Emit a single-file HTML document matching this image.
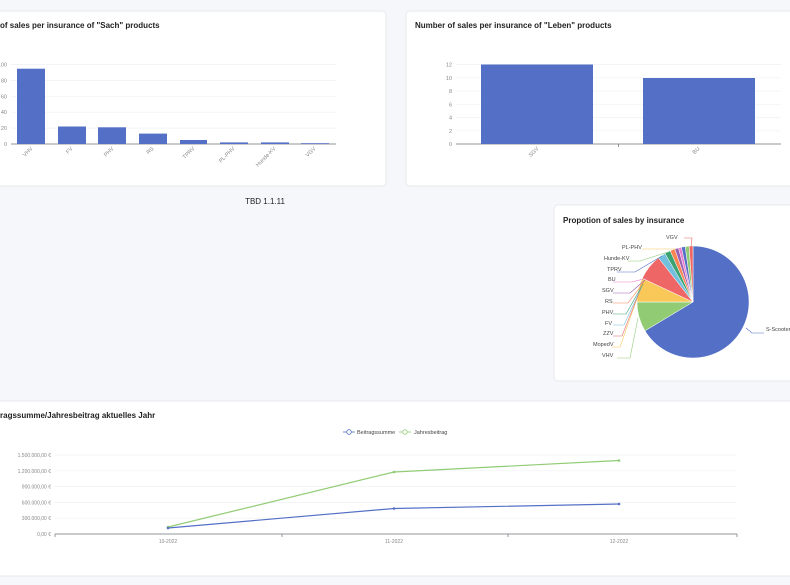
<!DOCTYPE html>
<html><head><meta charset="utf-8"><style>
body{margin:0;background:#f5f7fa;}
svg{display:block;font-family:"Liberation Sans",sans-serif;}
</style></head><body>
<svg width="790" height="585" viewBox="0 0 790 585" xmlns="http://www.w3.org/2000/svg">
<rect width="790" height="585" fill="#f5f7fa"/>
<!-- cards -->
<rect x="-10" y="11" width="396" height="175" rx="4" fill="#fff" stroke="#e8eaee"/>
<rect x="406" y="11" width="394" height="175" rx="4" fill="#fff" stroke="#e8eaee"/>
<rect x="554" y="205" width="246" height="176" rx="4" fill="#fff" stroke="#e8eaee"/>
<rect x="-10" y="401" width="810" height="175" rx="4" fill="#fff" stroke="#e8eaee"/>
<text x="265" y="204" font-size="8" fill="#222" text-anchor="middle">TBD 1.1.11</text>

<!-- chart 1 -->
<text x="0" y="28" font-size="8" font-weight="bold" fill="#222">of sales per insurance of "Sach" products</text>
<g stroke="#eef0f4" stroke-width="0.7">
<line x1="11" x2="336" y1="64.5" y2="64.5"/><line x1="11" x2="336" y1="80.4" y2="80.4"/><line x1="11" x2="336" y1="96.3" y2="96.3"/><line x1="11" x2="336" y1="112.2" y2="112.2"/><line x1="11" x2="336" y1="128.1" y2="128.1"/>
</g>
<g font-size="5.5" fill="#888" text-anchor="end">
<text x="7" y="66.5">100</text><text x="7" y="82.4">80</text><text x="7" y="98.3">60</text><text x="7" y="114.2">40</text><text x="7" y="130.1">20</text><text x="7" y="146">0</text>
</g>
<line x1="11" x2="336" y1="144" y2="144" stroke="#6e7079" stroke-width="0.7"/>
<g fill="#5470c6">
<rect x="17" y="68.7" width="28" height="75.3"/><rect x="58" y="126.5" width="28" height="17.5"/><rect x="98" y="127.3" width="28" height="16.7"/><rect x="139" y="133.6" width="28" height="10.4"/><rect x="180" y="140" width="27" height="4"/><rect x="220" y="142.4" width="28" height="1.6"/><rect x="261" y="142.4" width="28" height="1.6"/><rect x="301" y="143.2" width="28" height="0.8"/>
</g>
<g font-size="5.5" fill="#888" text-anchor="end">
<text transform="translate(33,149) rotate(-45)">VHV</text>
<text transform="translate(73,149) rotate(-45)">FV</text>
<text transform="translate(114,149) rotate(-45)">PHV</text>
<text transform="translate(154,149) rotate(-45)">RS</text>
<text transform="translate(195,149) rotate(-45)">TPRV</text>
<text transform="translate(235,149) rotate(-45)">PL-PHV</text>
<text transform="translate(276,149) rotate(-45)">Hunde-KV</text>
<text transform="translate(316,149) rotate(-45)">VGV</text>
</g>

<!-- chart 2 -->
<text x="415" y="28" font-size="8" font-weight="bold" fill="#222">Number of sales per insurance of "Leben" products</text>
<g stroke="#eef0f4" stroke-width="0.7">
<line x1="456" x2="781" y1="64.5" y2="64.5"/><line x1="456" x2="781" y1="77.8" y2="77.8"/><line x1="456" x2="781" y1="91" y2="91"/><line x1="456" x2="781" y1="104.3" y2="104.3"/><line x1="456" x2="781" y1="117.5" y2="117.5"/><line x1="456" x2="781" y1="130.8" y2="130.8"/>
</g>
<g font-size="5.5" fill="#888" text-anchor="end">
<text x="452" y="66.5">12</text><text x="452" y="79.8">10</text><text x="452" y="93">8</text><text x="452" y="106.3">6</text><text x="452" y="119.5">4</text><text x="452" y="132.8">2</text><text x="452" y="146">0</text>
</g>
<line x1="456" x2="781" y1="144" y2="144" stroke="#6e7079" stroke-width="0.7"/>
<line x1="618.5" x2="618.5" y1="144" y2="147" stroke="#6e7079" stroke-width="0.7"/>
<rect x="481" y="64.5" width="112" height="79.5" fill="#5470c6"/>
<rect x="643" y="78" width="112" height="66" fill="#5470c6"/>
<g font-size="5.5" fill="#888" text-anchor="end">
<text transform="translate(539,149) rotate(-45)">SGV</text>
<text transform="translate(700,149) rotate(-45)">BU</text>
</g>

<!-- pie -->
<text x="563" y="223" font-size="8" font-weight="bold" fill="#222">Propotion of sales by insurance</text>
<g stroke="#fff" stroke-width="0.5">
<path d="M693,302 L693,246 A56,56 0 1,1 645,330.8 Z" fill="#5470c6"/>
<path d="M693,302 L645,330.8 A56,56 0 0,1 637,302 Z" fill="#91cc75"/>
<path d="M693,302 L637,302 A56,56 0 0,1 642.3,278.3 Z" fill="#fac858"/>
<path d="M693,302 L642.3,278.3 A56,56 0 0,1 658.5,257.9 Z" fill="#ee6666"/>
<path d="M693,302 L658.5,257.9 A56,56 0 0,1 665,253.5 Z" fill="#73c0de"/>
<path d="M693,302 L665,253.5 A56,56 0 0,1 670.2,250.8 Z" fill="#3ba272"/>
<path d="M693,302 L670.2,250.8 A56,56 0 0,1 674.8,249 Z" fill="#fc8452"/>
<path d="M693,302 L674.8,249 A56,56 0 0,1 678.5,247.9 Z" fill="#9a60b4"/>
<path d="M693,302 L678.5,247.9 A56,56 0 0,1 681.4,247.2 Z" fill="#ea7ccc"/>
<path d="M693,302 L681.4,247.2 A56,56 0 0,1 685.2,246.6 Z" fill="#5470c6"/>
<path d="M693,302 L685.2,246.6 A56,56 0 0,1 689.1,246.1 Z" fill="#91cc75"/>
<path d="M693,302 L689.1,246.1 A56,56 0 0,1 693,246 Z" fill="#ee6666"/>
</g>
<g fill="none" stroke-width="0.6">
<polyline points="746,328 752,333 764,333" stroke="#5470c6"/>
<polyline points="638,318 630,358 617,358" stroke="#91cc75"/>
<polyline points="640,290 620,347 612,347" stroke="#fac858"/>
<polyline points="641,288 622,336 613,336" stroke="#ee6666"/>
<polyline points="642,286 624,325 613,325" stroke="#73c0de"/>
<polyline points="643,284 626,314 613,314" stroke="#3ba272"/>
<polyline points="644,282 628,303 613,303" stroke="#fc8452"/>
<polyline points="645,280 630,293 613,293" stroke="#9a60b4"/>
<polyline points="647,278 632,282 613,282" stroke="#ea7ccc"/>
<polyline points="662,256 635,272 617,272" stroke="#5470c6"/>
<polyline points="668,252 640,261 628,261" stroke="#91cc75"/>
<polyline points="676,249 650,249 642,249" stroke="#fac858"/>
<polyline points="691,247 692,238 684,238" stroke="#ee6666"/>
</g>
<g font-size="5.5" fill="#444">
<text x="766" y="331">S-Scooter</text>
<text x="602" y="357" >VHV</text>
<text x="593" y="346">MopedV</text>
<text x="603" y="335">ZZV</text>
<text x="605" y="325">FV</text>
<text x="602" y="314">PHV</text>
<text x="605" y="303">RS</text>
<text x="602" y="292">SGV</text>
<text x="608" y="281">BU</text>
<text x="607" y="271">TPRV</text>
<text x="604" y="260">Hunde-KV</text>
<text x="622" y="249">PL-PHV</text>
<text x="666" y="239">VGV</text>
</g>

<!-- line chart -->
<text x="0" y="418" font-size="8" font-weight="bold" fill="#222">ragssumme/Jahresbeitrag aktuelles Jahr</text>
<g font-size="5.5" fill="#444">
<line x1="343" x2="355" y1="432" y2="432" stroke="#5470c6" stroke-width="0.8"/><circle cx="349" cy="432" r="2.3" fill="#fff" stroke="#5470c6" stroke-width="0.8"/>
<text x="357" y="434">Beitragssumme</text>
<line x1="399" x2="411" y1="432" y2="432" stroke="#91cc75" stroke-width="0.8"/><circle cx="405" cy="432" r="2.3" fill="#fff" stroke="#91cc75" stroke-width="0.8"/>
<text x="414" y="434">Jahresbeitrag</text>
</g>
<g stroke="#eef0f4" stroke-width="0.7">
<line x1="55" x2="737" y1="455" y2="455"/><line x1="55" x2="737" y1="470.8" y2="470.8"/><line x1="55" x2="737" y1="486.6" y2="486.6"/><line x1="55" x2="737" y1="502.4" y2="502.4"/><line x1="55" x2="737" y1="518.2" y2="518.2"/>
</g>
<g font-size="5" fill="#888" text-anchor="end">
<text x="51" y="457">1.500.000,00 €</text><text x="51" y="472.8">1.200.000,00 €</text><text x="51" y="488.6">900.000,00 €</text><text x="51" y="504.4">600.000,00 €</text><text x="51" y="520.2">300.000,00 €</text><text x="51" y="536">0,00 €</text>
</g>
<line x1="55" x2="737" y1="534" y2="534" stroke="#6e7079" stroke-width="0.7"/>
<g stroke="#6e7079" stroke-width="0.7">
<line x1="55" x2="55" y1="534" y2="537"/><line x1="282" x2="282" y1="534" y2="537"/><line x1="508" x2="508" y1="534" y2="537"/><line x1="737" x2="737" y1="534" y2="537"/>
</g>
<g font-size="5" fill="#888" text-anchor="middle">
<text x="168" y="543">10-2022</text><text x="394" y="543">11-2022</text><text x="619" y="543">12-2022</text>
</g>
<polyline points="168,527 394,472 619,460.5" fill="none" stroke="#91cc75" stroke-width="1.2"/>
<polyline points="168,528 394,508.5 619,504" fill="none" stroke="#5470c6" stroke-width="1.2"/>
<g fill="#91cc75"><circle cx="168" cy="527" r="1.3"/><circle cx="394" cy="472" r="1.3"/><circle cx="619" cy="460.5" r="1.3"/></g>
<g fill="#5470c6"><circle cx="168" cy="528" r="1.3"/><circle cx="394" cy="508.5" r="1.3"/><circle cx="619" cy="504" r="1.3"/></g>
</svg>
</body></html>
